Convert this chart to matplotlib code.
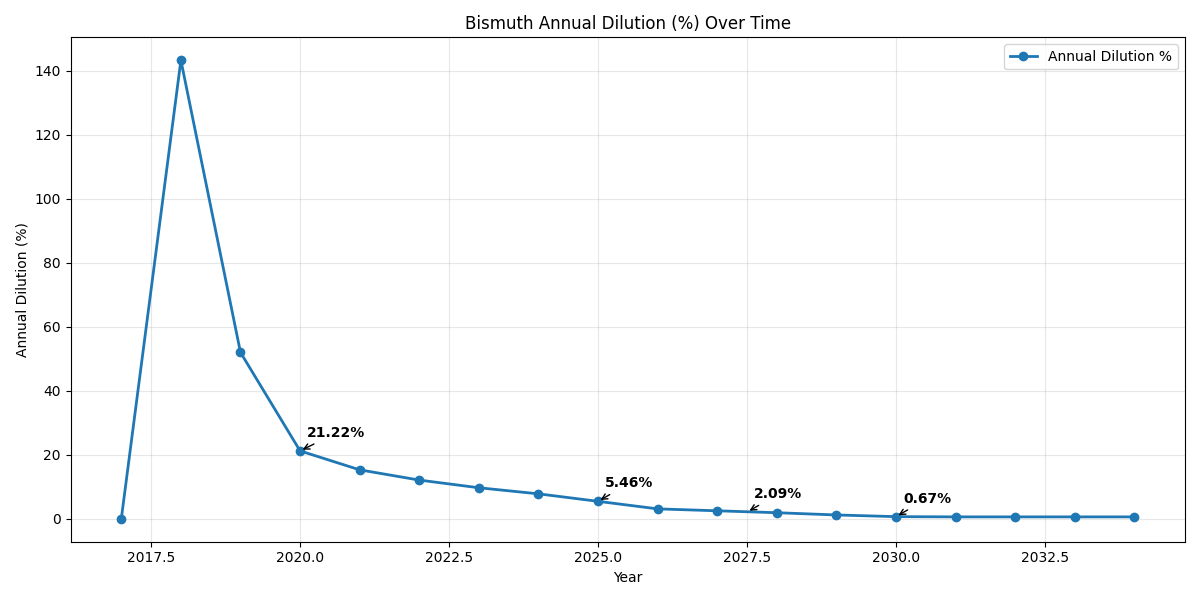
import matplotlib
matplotlib.use("Agg")
import matplotlib.pyplot as plt

years = list(range(2017, 2035))
dilution = [0.0, 143.3, 52.0, 21.22, 15.3, 12.1, 9.7, 7.8, 5.46, 3.1, 2.5, 1.9,
            1.2, 0.67, 0.6, 0.6, 0.6, 0.6]

# labelled points
ann_x = [2020, 2025, 2027.5, 2030]
ann_vals = [21.22, 5.46, 2.09, 0.67]

fig, ax = plt.subplots(figsize=(12, 6), dpi=100)
ax.plot(years, dilution, marker='o', linewidth=2, color='#1f77b4', label='Annual Dilution %')

for x, v in zip(ann_x, ann_vals):
    ax.annotate(f'{v:.2f}%', xy=(x, v), xytext=(5, 10), textcoords='offset points',
                fontsize=10, fontweight='bold',
                arrowprops=dict(arrowstyle='->', color='black'))

ax.set_title('Bismuth Annual Dilution (%) Over Time')
ax.set_xlabel('Year')
ax.set_ylabel('Annual Dilution (%)')
ax.grid(True, alpha=0.3)
ax.legend(loc='upper right')

plt.tight_layout()
plt.savefig('out.png')
